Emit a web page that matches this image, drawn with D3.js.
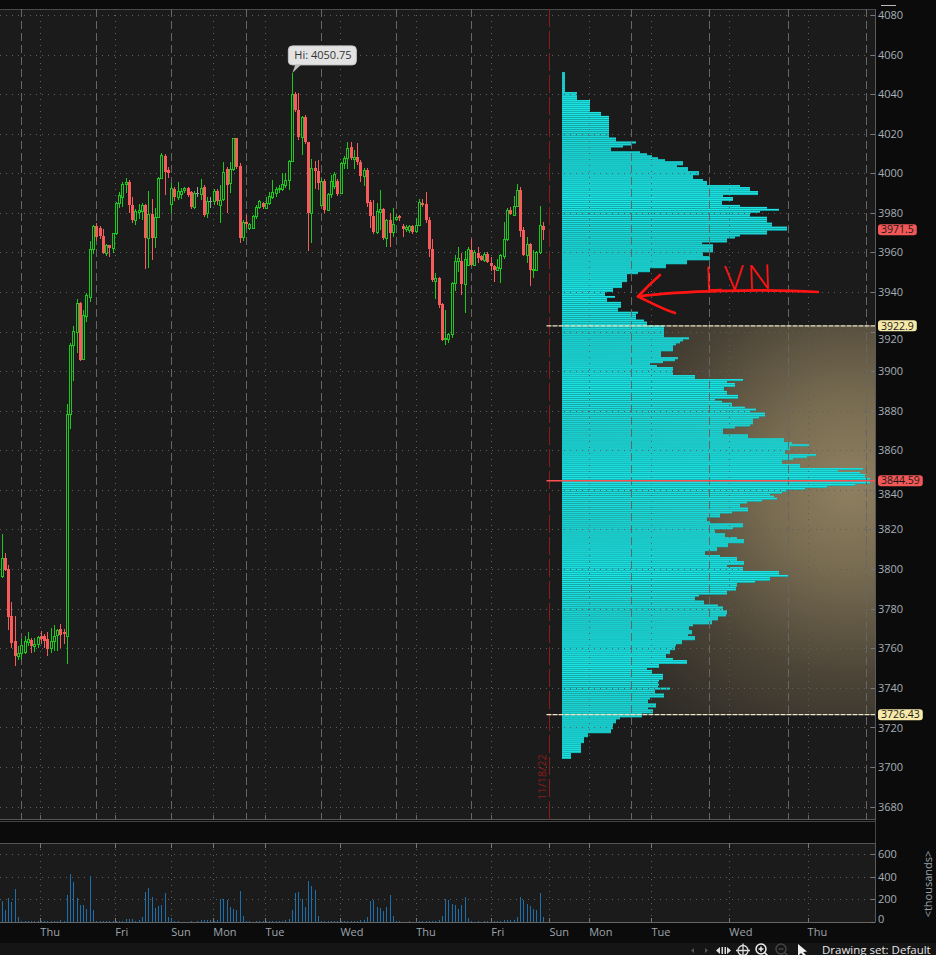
<!DOCTYPE html>
<html><head><meta charset="utf-8">
<script src="https://cdn.jsdelivr.net/npm/d3@7"></script>
<style>
html,body{margin:0;padding:0;background:#0b0b0b;}
svg{display:block;}
text{font-family:"Open Sans","Liberation Sans",Arial,sans-serif;}
</style></head><body>
<svg id="chart" width="936" height="955"></svg>
<script>
// ---------------- DATA ----------------
const opens=[3796.7,3805.6,3800.0,3776.1,3763.5,3756.3,3757.6,3758.0,3763.0,3764.0,
3761.2,3762.3,3766.0,3766.0,3764.7,3760.0,3763.7,3766.5,3769.5,3768.0,
3766.4,3878.3,3913.0,3920.0,3934.4,3906.1,3928.0,3937.7,3961.7,3973.5,
3972.5,3968.4,3959.6,3963.8,3962.2,3969.7,3984.9,3988.0,3994.4,3995.8,
3984.0,3976.5,3980.5,3981.2,3984.0,3967.2,3979.5,3967.7,3977.8,3997.8,
4008.8,4001.5,3984.5,3992.0,3988.2,3989.4,3991.6,3992.4,3990.3,3982.9,
3990.0,3989.4,3993.3,3979.8,3985.8,3985.8,3991.3,3984.0,3986.9,4002.1,
3995.0,4002.1,4017.7,4003.9,3967.7,3975.6,3972.3,3972.3,3978.5,3983.2,
3984.9,3982.7,3984.9,3988.2,3989.9,3992.0,3992.0,3994.1,3996.7,4006.3,
4039.9,4032.0,4018.2,4028.3,4015.7,3979.8,4002.6,4001.2,3984.0,3996.2,
3981.5,3989.4,3993.6,3996.2,3990.0,4005.1,4007.6,4013.2,4007.1,4008.0,
4005.9,3998.7,4001.7,3985.7,3978.5,3970.1,3980.2,3981.9,3967.2,3976.5,
3970.1,3977.1,3978.5,3973.4,3971.7,3971.4,3973.4,3970.6,3974.0,3985.2,
3984.5,3976.5,3961.7,3945.8,3947.0,3934.0,3916.2,3916.2,3918.7,3944.5,
3955.8,3955.8,3944.1,3953.7,3961.3,3953.7,3959.6,3958.0,3956.3,3959.3,
3954.9,3952.9,3951.2,3951.9,3958.3,3966.7,3981.5,3979.0,3983.5,3991.6,
3971.1,3958.5,3964.3,3950.9,3951.2,3960.0,3973.4];
const highs=[3817.7,3808.1,3802.2,3783.2,3776.5,3760.9,3764.4,3766.0,3768.1,3765.0,
3765.0,3766.0,3768.6,3767.4,3768.0,3770.2,3771.9,3769.5,3772.4,3769.5,
3883.4,3914.0,3922.6,3936.6,3935.0,3931.0,3939.4,3965.9,3974.0,3975.0,
3973.5,3972.0,3964.5,3964.0,3970.0,3985.5,3990.8,3995.5,3997.6,3996.5,
3988.0,3982.0,3984.5,3984.9,3984.5,3991.3,3986.9,3982.4,3998.0,4010.2,
4010.0,4003.0,3994.9,3993.0,3995.8,3992.5,3993.0,3993.0,3991.0,3991.0,
3993.3,3997.0,3994.0,3988.2,3988.2,3992.0,3992.0,3994.1,4005.9,4003.0,
4005.9,4018.0,4018.0,4005.0,3976.5,3979.0,3975.0,3979.0,3984.0,3986.5,
3985.5,3988.2,3990.8,3996.7,3993.0,3994.0,4000.1,4000.1,4006.5,4050.75,
4041.0,4040.5,4029.0,4029.5,4016.0,4007.1,4006.0,4006.8,3997.5,3997.0,
3990.0,3999.2,4000.5,3997.0,4005.9,4008.5,4016.0,4016.0,4011.8,4015.3,
4006.5,4002.5,4002.6,3986.6,3986.6,3984.9,3991.6,3982.5,3977.0,3979.8,
3982.4,3979.0,3979.0,3974.4,3974.0,3974.0,3973.8,3977.3,3986.9,3987.0,
3990.3,3977.8,3966.7,3949.5,3947.5,3934.5,3930.7,3919.2,3945.0,3958.8,
3963.0,3959.6,3960.5,3963.0,3966.7,3961.0,3963.0,3958.5,3960.0,3960.0,
3957.6,3953.5,3956.6,3959.0,3975.6,3982.4,3983.2,3988.3,3994.6,3993.3,
3973.1,3968.0,3965.0,3961.3,3960.5,3983.5,3975.6];
const lows=[3795.5,3799.0,3769.4,3760.0,3750.9,3754.2,3753.9,3757.0,3761.0,3757.6,
3758.0,3760.0,3762.0,3760.0,3756.3,3757.6,3758.4,3758.5,3760.0,3762.0,
3752.1,3870.7,3894.9,3909.4,3904.9,3905.7,3925.0,3935.2,3959.3,3966.0,
3967.0,3959.0,3958.0,3957.9,3959.9,3969.0,3982.4,3983.0,3990.0,3979.8,
3975.0,3974.0,3977.0,3976.5,3951.6,3952.1,3956.3,3962.2,3977.3,3997.0,
3989.0,3997.8,3979.8,3986.0,3986.6,3987.0,3990.0,3988.0,3982.0,3982.0,
3988.2,3986.6,3978.1,3977.3,3982.4,3984.0,3984.0,3974.8,3986.0,3979.8,
3989.9,4001.0,4002.0,3964.7,3966.0,3972.3,3971.5,3972.0,3977.0,3982.0,
3982.0,3982.0,3984.0,3987.0,3988.0,3990.0,3991.0,3992.4,3991.6,4006.0,
4031.0,4017.0,4009.3,4015.0,3960.5,3964.7,3992.0,3991.6,3983.0,3980.0,
3980.7,3987.4,3992.0,3988.3,3989.4,4002.1,4002.1,4006.8,4002.1,4004.2,
3995.8,3993.6,3983.2,3972.3,3969.5,3969.5,3971.4,3966.4,3963.0,3963.0,
3968.0,3976.0,3976.0,3968.0,3970.5,3970.0,3969.5,3970.0,3973.6,3983.0,
3975.0,3957.6,3945.0,3936.4,3931.9,3915.0,3913.3,3914.2,3917.0,3940.3,
3950.0,3938.6,3929.3,3952.9,3952.9,3953.0,3954.6,3955.5,3955.0,3954.6,
3950.4,3945.3,3950.4,3944.5,3956.6,3966.0,3979.0,3978.5,3983.0,3968.0,
3958.0,3954.6,3942.8,3947.0,3950.5,3959.0,3966.4];
const closes=[3805.6,3799.7,3775.8,3762.7,3755.9,3757.6,3761.8,3763.5,3764.5,3761.0,
3762.2,3765.6,3764.5,3763.8,3759.6,3763.7,3766.2,3769.3,3766.5,3767.0,
3878.3,3913.3,3920.4,3934.4,3905.7,3928.5,3938.6,3961.8,3973.4,3968.0,
3968.3,3959.6,3963.8,3962.2,3969.7,3984.9,3989.1,3994.4,3995.8,3984.0,
3976.5,3981.2,3981.5,3984.0,3967.2,3979.5,3967.2,3977.8,3997.8,4009.2,
4000.9,4000.1,3992.4,3988.2,3991.3,3991.3,3992.4,3989.1,3982.9,3989.9,
3990.0,3992.8,3979.0,3985.8,3985.8,3991.3,3985.8,3986.6,4000.9,3994.1,
4002.1,4017.7,4003.4,3967.2,3975.6,3974.4,3974.4,3978.5,3983.2,3985.8,
3982.9,3984.9,3988.6,3990.8,3992.0,3992.4,3994.6,3996.7,4006.3,4039.9,
4032.0,4018.2,4028.3,4015.7,3979.8,4002.6,4001.2,3995.0,3996.2,3981.5,
3989.4,3996.2,3999.7,3989.4,4005.1,4007.6,4012.7,4007.6,4008.0,4005.9,
3998.7,4001.7,3985.2,3978.2,3970.1,3980.7,3981.9,3967.2,3976.5,3969.7,
3974.4,3978.1,3977.3,3971.7,3973.0,3973.6,3970.1,3974.0,3985.7,3984.0,
3976.5,3961.7,3946.0,3947.0,3933.5,3915.9,3916.7,3918.7,3944.5,3955.9,
3957.0,3944.1,3956.6,3961.8,3953.7,3960.3,3957.1,3956.3,3959.3,3955.4,
3952.9,3951.2,3952.4,3958.6,3966.7,3981.5,3979.5,3983.5,3991.6,3970.6,
3958.5,3964.3,3951.2,3951.5,3960.1,3974.0,3971.5];
// volume per bar, thousands
const volumes=[182,109,212,176,294,44,8,6,5,6,
5,7,6,5,8,12,6,12,20,12,
238,420,355,212,153,153,117,402,109,10,
12,12,6,5,8,10,12,8,26,26,
26,12,15,44,266,301,222,125,142,151,
258,43,35,6,12,4,3,4,5,4,
6,18,18,14,16,10,20,205,200,196,
135,117,109,277,50,6,5,4,5,6,
5,8,6,10,10,10,12,18,30,109,
258,266,202,135,364,320,285,50,5,12,
10,8,6,10,5,10,12,10,8,12,
16,20,42,188,194,135,123,100,135,238,
50,5,5,4,4,5,4,5,6,5,
6,8,10,12,14,56,202,194,161,147,
117,147,222,35,5,4,5,4,6,5,
4,5,6,12,14,16,14,18,40,222,
196,158,144,117,103,252,43];
// volume profile, one value per price level from profileHigh downwards
const profileHigh=4051;
const profileVol=[3,3,
3,3,3,3,3,3,3,3,15,15,
15,15,28,28,28,28,28,28,39,39,
47,47,47,47,47,47,47,47,47,47,
47,54,54,74,69,61,49,49,78,85,
90,96,103,121,121,115,126,126,137,137,
131,131,141,145,145,178,188,188,196,196,
161,171,171,160,160,178,205,217,198,188,
188,205,205,205,210,210,225,225,205,205,
178,173,165,165,140,151,151,151,151,141,
141,148,148,125,125,104,104,88,88,76,
65,65,65,65,60,60,60,51,51,43,
43,53,45,45,59,59,59,56,56,76,
74,74,74,82,85,85,102,102,102,102,
102,102,127,121,118,114,111,111,111,99,
99,99,116,113,101,88,95,111,111,111,
111,133,133,181,165,173,173,162,162,165,
165,176,176,153,160,170,170,183,194,188,
203,203,197,191,191,191,188,173,161,161,
161,186,186,222,222,230,247,228,228,223,
223,254,245,231,220,220,238,238,301,276,
298,303,303,308,308,308,293,265,243,225,
220,208,212,215,200,185,178,178,186,186,
170,158,158,145,145,148,181,181,171,153,
153,163,163,175,182,182,166,166,155,155,
143,143,158,175,175,182,182,165,181,181,
217,217,226,208,208,193,175,175,174,174,
165,165,137,133,133,142,142,156,161,161,
165,165,164,156,156,150,150,131,127,127,
130,130,126,133,133,120,120,114,113,113,
108,108,104,104,111,125,125,97,97,85,
90,90,101,101,101,97,96,97,96,108,
93,93,102,102,88,86,86,94,94,86,
91,91,80,80,58,54,54,51,51,51,
49,49,26,26,22,22,22,19,19,19,
19,19,9,9,9];
const pocPrice=3844.59, vahPrice=3922.9, valPrice=3726.43, lastPrice=3971.5, hiPrice=4050.75;
const priceTicks=[3680,3700,3720,3740,3760,3780,3800,3820,3840,3860,3880,3900,3920,3940,3960,3980,4000,4020,4040,4060,4080];
const volTicks=[0,200,400,600];
const dayLabels=["Thu","Fri","Sun","Mon","Tue","Wed","Thu","Fri","Sun","Mon","Tue","Wed","Thu"];
const dayLabelSlots=[11.85,34.85,52.02,64.9,80.9,103.9,127.15,150.2,168,180.2,199.3,223.2,247.2];
const sessionBreakSlots=[6,29,52.02,75,98,121,144,193.1,217.1,241.3,265.2];
const dateMarkerSlot=168, dateMarkerLabel="11/18/22";

// ---------------- LAYOUT ----------------
const svg=d3.select("#chart");
const PL=0, PR=875, PT=9, PB=820;
const VT=843, VB=922;
const x=d3.scaleLinear().domain([0,268]).range([1.7,875.4]);
const y=d3.scaleLinear().domain([3680,4080]).range([806.5,15]);
const vy=d3.scaleLinear().domain([0,600]).range([VB,854]);
const px=d3.scaleLinear().domain([0,310]).range([562,872]);

const GREEN="#1bc81b", RED="#f75c5c", GREY="#a0a0a0", BG="#1b1b1b";
const defs=svg.append("defs");
defs.append("clipPath").attr("id","plotClip").append("rect").attr("x",PL).attr("y",PT).attr("width",PR-PL).attr("height",PB-PT);
const rg=defs.append("radialGradient").attr("id","vaGrad").attr("gradientUnits","userSpaceOnUse")
  .attr("cx",850).attr("cy",485).attr("r",300);
[[0,"#8f8060"],[0.3,"#766a50"],[0.65,"#4a4336"],[1,"#2c2925"]].forEach(s=>rg.append("stop").attr("offset",s[0]).attr("stop-color",s[1]));

svg.append("rect").attr("width",936).attr("height",955).attr("fill","#0b0b0b");
svg.append("rect").attr("x",PL).attr("y",PT).attr("width",PR-PL).attr("height",PB-PT).attr("fill",BG);
svg.append("line").attr("x1",0).attr("x2",PR).attr("y1",PT+0.5).attr("y2",PT+0.5).attr("stroke","#4a4a4a");

const main=svg.append("g").attr("clip-path","url(#plotClip)");

// value area shading
main.append("rect").attr("x",px(0)).attr("y",y(vahPrice)).attr("width",PR-px(0)).attr("height",y(valPrice)-y(vahPrice)).attr("fill","url(#vaGrad)");

// volume profile
const prof=main.append("g");
profileVol.forEach((v,i)=>{
  const p=profileHigh-i, y0=y(p), h=y(p-1)-y(p);
  prof.append("rect").attr("x",px(0)).attr("y",y0).attr("width",px(v)-px(0)).attr("height",h).attr("fill","#13b0b0");
  prof.append("rect").attr("x",px(0)).attr("y",y0).attr("width",px(v)-px(0)).attr("height",h*0.55).attr("fill","#1fe4e4");
});

// grid
const grid=main.append("g").attr("stroke","#5e5e5e").attr("stroke-width",1);
priceTicks.forEach(t=>grid.append("line").attr("x1",PL).attr("x2",PR).attr("y1",Math.round(y(t))+0.5).attr("y2",Math.round(y(t))+0.5).attr("stroke-dasharray","1,5"));
dayLabelSlots.forEach(s=>{ if(s===dateMarkerSlot) return; grid.append("line").attr("x1",Math.round(x(s))+0.5).attr("x2",Math.round(x(s))+0.5).attr("y1",PT).attr("y2",PB).attr("stroke-dasharray","1,5");});
sessionBreakSlots.forEach(s=>grid.append("line").attr("x1",Math.round(x(s))+0.5).attr("x2",Math.round(x(s))+0.5).attr("y1",PT).attr("y2",PB).attr("stroke","#666").attr("stroke-dasharray","8,4"));
// date marker
const dmx=Math.round(x(dateMarkerSlot))+0.5;
main.append("line").attr("x1",dmx).attr("x2",dmx).attr("y1",PT).attr("y2",PB).attr("stroke","#8a1c1c").attr("stroke-dasharray","18,4");
main.append("text").attr("transform",`translate(${dmx-3.5},777) rotate(-90)`).attr("text-anchor","middle")
  .attr("fill","#8a1c1c").attr("font-size",11).text(dateMarkerLabel);

// candles
const cg=main.append("g").attr("shape-rendering","crispEdges");
opens.forEach((o,i)=>{
  const c=closes[i], h=highs[i], l=lows[i];
  const col=c>o?GREEN:(c<o?RED:GREY);
  const xc=Math.round(x(i));
  cg.append("line").attr("x1",xc+0.5).attr("x2",xc+0.5).attr("y1",y(h)).attr("y2",y(l)).attr("stroke",col);
  const top=Math.round(y(Math.max(o,c))), bot=Math.round(y(Math.min(o,c)));
  if(c>o){
    cg.append("rect").attr("x",xc-0.5).attr("y",top+0.5).attr("width",2).attr("height",Math.max(bot-top,1)).attr("fill",BG).attr("stroke",col);
  } else if(c<o){
    cg.append("rect").attr("x",xc-1).attr("y",top).attr("width",3).attr("height",Math.max(bot-top,1)).attr("fill",col);
  } else {
    cg.append("rect").attr("x",xc-1).attr("y",top).attr("width",3).attr("height",1).attr("fill",col);
  }
});

// value area & POC lines
const lx0=dmx-3;
[vahPrice,valPrice].forEach(p=>{
  main.append("line").attr("x1",lx0).attr("x2",PR).attr("y1",y(p)).attr("y2",y(p)).attr("stroke","#efe8c8").attr("stroke-width",1.2).attr("stroke-dasharray","5,1");
});
main.append("line").attr("x1",lx0).attr("x2",PR).attr("y1",y(pocPrice)).attr("y2",y(pocPrice)).attr("stroke","#ff5252").attr("stroke-width",1.4);

// Hi callout
const hiIdx=highs.indexOf(hiPrice);
const tx=x(hiIdx)+0.5, ty=y(hiPrice);
const callout=svg.append("g");
callout.append("rect").attr("x",tx-4).attr("y",ty-27).attr("width",68).attr("height",19).attr("rx",4).attr("fill","#e3e3e3").attr("stroke","#c8c8c8");
callout.append("path").attr("d",`M${tx},${ty} L${tx+3},${ty-8.5} L${tx+9},${ty-8.5} Z`).attr("fill","#bcbcbc");
callout.append("text").attr("x",tx+2).attr("y",ty-13.5).attr("fill","#333").attr("font-size",11).text("Hi: "+hiPrice);

// LVN annotation (hand drawn)
const ann=svg.append("g").attr("fill","none").attr("stroke","#ff1414").attr("stroke-width",2.6).attr("stroke-linecap","round").attr("stroke-linejoin","round");
ann.append("path").attr("d","M638,296.5 C680,291 760,288.5 818,292");
ann.append("path").attr("d","M660,275 C652,282 644,290 638,296.5 C648,301 662,309 675,313");
svg.append("text").attr("x",704).attr("y",290).attr("fill","#ff1414").attr("font-size",34).attr("font-weight",300)
  .attr("font-family","Lato, 'Open Sans', sans-serif").attr("letter-spacing",3).attr("transform","rotate(-2 735 278)").text("LVN");

// right price axis
svg.append("rect").attr("x",PR).attr("y",PT).attr("width",936-PR).attr("height",PB-PT).attr("fill","#0b0b0b");
svg.append("line").attr("x1",PR+0.5).attr("x2",PR+0.5).attr("y1",PT).attr("y2",PB).attr("stroke","#5a5a5a");
const boxes=[[lastPrice,"3971.5","#f25757"],[vahPrice,"3922.9","#f7e9a8"],[pocPrice,"3844.59","#f25757"],[valPrice,"3726.43","#f7e9a8"]];
const BH=11;
const ax=svg.append("g");
priceTicks.forEach(t=>{
  const yy=Math.round(y(t))+0.5;
  ax.append("line").attr("x1",PR-4).attr("x2",PR).attr("y1",yy).attr("y2",yy).attr("stroke","#777");
  // keep the tick label readable: if a price flag covers it, set it just clear of the flag
  let ly=yy;
  boxes.forEach(b=>{
    const bt=y(b[0])-BH/2, bb=y(b[0])+BH/2;
    if(ly+7.5>bt && ly-7.5<bb){ ly = (ly>=y(b[0])) ? bb+7.6 : bt-7.6; }
  });
  ax.append("text").attr("x",PR+3).attr("y",ly).attr("dy","0.35em").attr("fill","#a6aeb6").attr("font-size",11).text(t);
});
boxes.forEach(b=>{
  const g=svg.append("g");
  const yy=y(b[0]);
  const r=g.append("rect").attr("x",PR+3).attr("y",yy-BH/2).attr("height",BH).attr("rx",3).attr("fill",b[2]);
  const t=g.append("text").attr("x",PR+6).attr("y",yy).attr("dy","0.35em").attr("fill","#1a1a1a").attr("font-size",10.5).text(b[1]);
  r.attr("width",t.node().getComputedTextLength()+6);
});

// bottom of main plot
svg.append("line").attr("x1",0).attr("x2",PR).attr("y1",PB-0.5).attr("y2",PB-0.5).attr("stroke","#555");
svg.append("line").attr("x1",0).attr("x2",PR).attr("y1",PB+1.5).attr("y2",PB+1.5).attr("stroke","#444");
sessionBreakSlots.concat(dayLabelSlots).forEach(s=>{
  const xx=Math.round(x(s))+0.5;
  svg.append("line").attr("x1",xx).attr("x2",xx).attr("y1",PB-5).attr("y2",PB).attr("stroke",s===dateMarkerSlot?"#8a1c1c":"#666");
});
svg.append("line").attr("x1",PR+0.5).attr("x2",PR+0.5).attr("y1",PB).attr("y2",VT).attr("stroke","#444");

// volume panel
svg.append("rect").attr("x",0).attr("y",VT).attr("width",PR).attr("height",VB-VT).attr("fill",BG);
svg.append("line").attr("x1",0).attr("x2",PR+0.5).attr("y1",VT+0.5).attr("y2",VT+0.5).attr("stroke","#555");
svg.append("line").attr("x1",0).attr("x2",PR+0.5).attr("y1",VB+0.5).attr("y2",VB+0.5).attr("stroke","#666");
svg.append("line").attr("x1",PR+0.5).attr("x2",PR+0.5).attr("y1",VT).attr("y2",VB).attr("stroke","#5a5a5a");
const vg=svg.append("g").attr("stroke","#5e5e5e");
volTicks.filter(t=>t>0).forEach(t=>vg.append("line").attr("x1",0).attr("x2",PR).attr("y1",Math.round(vy(t))+0.5).attr("y2",Math.round(vy(t))+0.5).attr("stroke-dasharray","1,5"));
dayLabelSlots.forEach(s=>{
  const xx=Math.round(x(s))+0.5;
  vg.append("line").attr("x1",xx).attr("x2",xx).attr("y1",VT).attr("y2",VB).attr("stroke-dasharray","1,5");
  vg.append("line").attr("x1",xx).attr("x2",xx).attr("y1",VT).attr("y2",VT+5).attr("stroke","#777");
  vg.append("line").attr("x1",xx).attr("x2",xx).attr("y1",VB-4).attr("y2",VB).attr("stroke","#777");
});
const vbars=svg.append("g").attr("shape-rendering","crispEdges");
volumes.forEach((v,i)=>{
  const xx=Math.round(x(i))+0.5;
  vbars.append("line").attr("x1",xx).attr("x2",xx).attr("y1",vy(0)).attr("y2",vy(v)).attr("stroke","#1c6fab");
});
const vax=svg.append("g");
volTicks.forEach(t=>{
  vax.append("line").attr("x1",PR-4).attr("x2",PR).attr("y1",Math.round(vy(t))+0.5).attr("y2",Math.round(vy(t))+0.5).attr("stroke","#777");
  vax.append("text").attr("x",PR+3).attr("y",vy(t)).attr("dy",t===0?"0.1em":"0.35em").attr("fill","#a6aeb6").attr("font-size",11).text(t);
});
svg.append("text").attr("transform","translate(932,884) rotate(-90)").attr("text-anchor","middle").attr("fill","#9aa2aa").attr("font-size",11).text("<thousands>");

// day labels
dayLabels.forEach((d,i)=>{
  svg.append("text").attr("x",x(dayLabelSlots[i])).attr("y",936).attr("fill","#9ea5ab").attr("font-size",11).text(d);
});

// bottom toolbar
svg.append("rect").attr("x",0).attr("y",943).attr("width",936).attr("height",12).attr("fill","#151515");
const tb=svg.append("g");
tb.append("path").attr("d","M694,948 L691,950.5 L694,953 Z").attr("fill","#555");
tb.append("path").attr("d","M705,948 L708,950.5 L705,953 Z").attr("fill","#555");
tb.append("path").attr("d","M720,947 L716,950.5 L720,954 Z M727,947 L731,950.5 L727,954 Z").attr("fill","#ddd");
tb.append("rect").attr("x",721.5).attr("y",947).attr("width",1.5).attr("height",7).attr("fill","#ddd");
tb.append("rect").attr("x",724.5).attr("y",947).attr("width",1.5).attr("height",7).attr("fill","#ddd");
tb.append("circle").attr("cx",743).attr("cy",950.5).attr("r",5).attr("fill","none").attr("stroke","#ddd").attr("stroke-width",1.3);
tb.append("path").attr("d","M736,950.5 H750 M743,943.5 V957").attr("stroke","#ddd").attr("stroke-width",1.3);
tb.append("circle").attr("cx",761).attr("cy",949).attr("r",5).attr("fill","none").attr("stroke","#eee").attr("stroke-width",1.5);
tb.append("path").attr("d","M758.5,949 H763.5 M761,946.5 V951.5 M764.5,952.5 L768,956").attr("stroke","#eee").attr("stroke-width",1.5);
tb.append("circle").attr("cx",781).attr("cy",949).attr("r",5).attr("fill","none").attr("stroke","#444").attr("stroke-width",1.5);
tb.append("path").attr("d","M778.5,949 H783.5 M784.5,952.5 L788,956").attr("stroke","#444").attr("stroke-width",1.5);
tb.append("path").attr("d","M798,944 L798,956 L801,953 L804,956 L806,955 L803,952 L807,951.5 Z").attr("fill","#f0f0f0");
svg.append("text").attr("x",822).attr("y",953.5).attr("fill","#e8e8e8").attr("font-size",11.5).text("Drawing set: Default");
svg.append("line").attr("x1",881).attr("x2",896).attr("y1",5.5).attr("y2",5.5).attr("stroke","#bbb");
</script>
</body></html>
